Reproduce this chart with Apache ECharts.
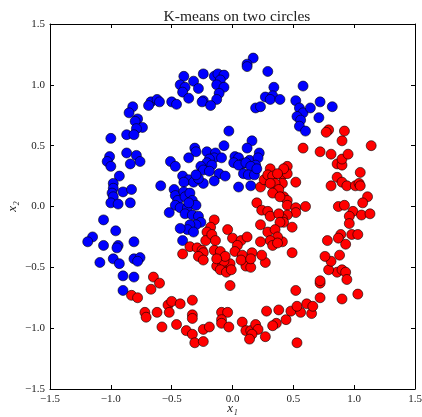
<!DOCTYPE html>
<html><head><meta charset="utf-8">
<script src="https://cdn.jsdelivr.net/npm/echarts@6/dist/echarts.min.js"></script>
<style>html,body{margin:0;padding:0;background:#fff}#c{width:422px;height:417px}</style>
</head><body><div id="c"></div>
<script>
const titleText = 'K-means on two circles';
const xLabel = 'x₁';
const yLabel = 'x₂';
const axisMin = -1.5, axisMax = 1.5, axisStep = 0.5;
const bluePoints = [
[-0.82,0.82],[-0.85,0.77],[-0.67,0.86],[-0.62,0.88],[-0.60,0.86],[-0.69,0.83],[-0.50,0.86],[-0.46,0.84],
[-0.78,0.72],[-0.80,0.70],[-0.74,0.65],[-0.79,0.64],[-0.87,0.59],[-0.81,0.59],[-1.00,0.56],[-0.87,0.44],
[-0.79,0.42],[-0.76,0.37],[-0.84,0.35],[-1.01,0.41],[-1.03,0.37],[-1.00,0.33],[-0.51,0.37],[-0.47,0.33],
[-0.93,0.25],[-0.98,0.19],[-0.98,0.15],[-0.99,0.11],[-0.98,0.08],[-1.00,0.03],[-0.94,0.02],[-0.90,0.12],
[-0.83,0.14],[-0.84,0.03],[-0.59,0.17],[-1.06,-0.11],[-0.96,-0.20],[-1.15,-0.25],[-1.19,-0.29],[-1.06,-0.32],
[-0.94,-0.32],[-0.95,-0.34],[-0.81,-0.29],[-1.09,-0.46],[-0.98,-0.43],[-0.93,-0.47],[-0.81,-0.43],[-0.76,-0.42],
[-0.78,-0.45],[-0.90,-0.57],[-0.81,-0.58],[-0.90,-0.69],[0.17,1.22],[0.12,1.17],[0.12,1.15],[0.29,1.11],
[-0.40,1.07],[-0.24,1.09],[-0.15,1.07],[-0.12,1.09],[-0.07,1.08],[-0.10,1.04],[-0.13,1.00],[-0.07,0.98],
[-0.32,1.03],[-0.43,1.00],[-0.39,0.98],[-0.41,0.94],[-0.28,0.97],[-0.36,0.89],[-0.11,0.93],[-0.13,0.88],
[-0.24,0.87],[-0.25,0.86],[-0.18,0.83],[0.34,0.98],[0.27,0.90],[0.33,0.91],[0.31,0.88],[0.39,0.88],
[0.19,0.81],[0.23,0.82],[-0.03,0.62],[0.16,0.54],[0.12,0.48],[-0.07,0.50],[-0.31,0.48],[-0.30,0.45],
[-0.36,0.40],[-0.21,0.45],[-0.14,0.44],[-0.15,0.40],[-0.09,0.40],[-0.19,0.39],[-0.21,0.36],[-0.26,0.33],
[-0.17,0.34],[0.02,0.41],[0.05,0.40],[0.01,0.36],[0.08,0.35],[0.14,0.38],[0.22,0.44],[0.21,0.40],
[0.19,0.34],[0.58,0.99],[0.52,0.87],[0.55,0.81],[0.58,0.77],[0.53,0.74],[0.56,0.71],[0.55,0.66],
[0.60,0.62],[0.64,0.81],[0.72,0.86],[0.82,0.82],[0.71,0.73],[-0.41,0.25],[-0.36,0.22],[-0.32,0.20],
[-0.24,0.30],[-0.19,0.29],[-0.11,0.27],[-0.06,0.25],[-0.15,0.21],[-0.24,0.19],[-0.28,0.23],[-0.30,0.26],
[-0.40,0.20],[0.05,0.34],[0.11,0.36],[0.15,0.33],[0.09,0.27],[0.13,0.26],[0.18,0.26],[0.20,0.31],
[0.05,0.16],[0.15,0.17],[-0.48,0.14],[-0.47,0.09],[-0.45,0.05],[-0.47,0.01],[-0.43,-0.01],[-0.37,-0.01],
[-0.40,0.12],[-0.39,0.08],[-0.35,0.11],[-0.33,0.05],[-0.30,0.01],[-0.36,0.03],[-0.39,-0.06],[-0.33,-0.07],
[-0.28,-0.08],[-0.26,-0.13],[-0.30,-0.15],[-0.35,-0.15],[-0.37,-0.19],[-0.43,-0.18],[-0.32,-0.21],[-0.41,-0.28],
[-0.52,-0.05]
];
const redPoints = [
[-0.65,-0.58],[-0.60,-0.63],[-0.67,-0.68],[-0.83,-0.73],[-0.78,-0.75],[-0.72,-0.87],[-0.71,-0.91],[-0.62,-0.87],
[-0.58,-0.99],[-0.53,-0.81],[-0.50,-0.78],[-0.52,-0.87],[-0.46,-0.97],[-0.43,-0.80],[-0.41,-0.39],
[-0.13,-0.49],[-0.08,-0.48],[-0.02,-0.47],[-0.07,-0.45],[-0.10,-0.52],[-0.05,-0.54],[-0.01,-0.52],[0.11,-0.49],
[0.15,-0.50],[0.27,-0.46],[-0.02,-0.65],[-0.33,-0.77],[-0.33,-0.89],[-0.33,-0.92],[-0.38,-1.02],[-0.33,-1.05],
[-0.31,-1.12],[-0.24,-1.11],[-0.24,-1.01],[-0.19,-0.99],[-0.09,-0.87],[-0.04,-0.87],[-0.09,-0.93],[-0.09,-0.96],
[-0.03,-0.99],[0.08,-0.95],[0.11,-1.02],[0.15,-1.02],[0.19,-0.97],[0.21,-1.01],[0.16,-1.05],[0.14,-1.09],
[0.27,-1.07],[0.28,-0.86],[0.38,-0.85],[0.36,-0.96],[0.33,-0.98],
[0.44,-0.93],[0.48,-0.86],[0.56,-0.87],[0.65,-0.88],[0.53,-0.82],[0.61,-0.80],[0.66,-0.82],[0.52,-0.69],
[0.72,-0.75],[0.72,-0.63],[0.72,-0.61],[0.90,-0.76],[1.03,-0.72],[0.86,-0.54],[0.90,-0.52],[0.93,-0.54],
[0.94,-0.60],[0.79,-0.52],[0.81,-0.45],[0.53,-1.12],
[0.45,0.33],[0.41,0.26],[0.45,0.27],[0.52,0.20],[0.41,0.19],[0.42,0.08],[0.45,0.05],[0.45,0.01],
[0.52,-0.01],[0.52,-0.05],[0.60,0.00],[0.45,-0.07],[0.41,-0.10],[0.42,-0.13],[0.49,-0.17],[0.41,-0.29],[0.49,-0.38],
[0.86,0.35],[0.90,0.34],[1.05,0.28],[0.86,0.24],[0.90,0.20],[0.94,0.17],[0.81,0.17],[1.01,0.17],
[1.04,0.19],[1.05,0.17],[1.11,0.08],[1.07,0.03],[0.87,0.00],[0.92,0.01],[0.99,-0.04],[0.96,-0.08],
[1.06,-0.07],[1.13,-0.06],[0.96,-0.14],[0.89,-0.23],[0.87,-0.26],[0.98,-0.23],[1.03,-0.23],[0.93,-0.31],
[0.78,-0.28],[0.76,-0.41],[0.88,-0.40],
[0.79,0.63],[0.77,0.61],[0.92,0.62],[0.90,0.54],[0.58,0.48],[0.72,0.45],[0.81,0.43],[0.90,0.39],
[0.95,0.43],[1.14,0.50],[0.42,0.31],[0.31,0.31],
[0.23,0.16],[0.26,0.22],[0.29,0.26],[0.33,0.25],[0.37,0.27],[0.35,0.19],[0.31,0.19],[0.38,0.14],
[0.33,0.11],[0.39,0.08],[0.20,0.03],[0.24,-0.03],[0.29,-0.04],[0.31,-0.08],[0.38,-0.06],[0.39,-0.13],
[0.23,-0.15],[0.29,-0.21],[0.35,-0.19],[0.37,-0.25],[0.31,-0.28],[0.33,-0.32],[0.37,-0.30],[0.23,-0.29],
[0.24,-0.40],[0.16,-0.38],
[-0.15,-0.11],[-0.18,-0.17],[-0.21,-0.21],[-0.22,-0.28],[-0.17,-0.23],[-0.14,-0.28],[-0.04,-0.19],[0.00,-0.26],
[0.07,-0.28],[0.12,-0.25],[0.04,-0.32],[-0.35,-0.33],[-0.29,-0.34],[-0.25,-0.36],[-0.24,-0.38],[-0.28,-0.41],
[-0.24,-0.44],[-0.15,-0.36],[-0.10,-0.37],[-0.06,-0.41],[-0.13,-0.43],[0.02,-0.37],[0.08,-0.40],[0.07,-0.44],
[0.15,-0.43]
];

const serif = 'Liberation Serif, DejaVu Serif, serif';
const fmt = v => (v < 0 ? '\u2212' : '') + Math.abs(v).toFixed(1);
function axis(pos, showLabel, extra) {
  return Object.assign({
    type: 'value', position: pos, min: axisMin, max: axisMax, interval: axisStep,
    axisLine: { show: true, onZero: false, lineStyle: { color: '#000', width: 1 } },
    axisTick: { show: true, inside: true, length: 4, lineStyle: { color: '#000' } },
    axisLabel: { show: showLabel, formatter: fmt, fontFamily: serif, fontSize: 11, color: '#222', margin: 5 },
    splitLine: { show: false }
  }, extra || {});
}
const chart = echarts.init(document.getElementById('c'), null, { renderer: 'canvas' });
chart.setOption({
  animation: false,
  backgroundColor: '#fff',
  title: { text: titleText, left: 232, textAlign: 'center', top: 4,
    textStyle: { fontFamily: serif, fontSize: 15.5, fontWeight: 'normal', color: '#222' } },
  grid: { left: 50, right: 7, top: 24, bottom: 28, containLabel: false, outerBoundsMode: 'none' },
  xAxis: [
    axis('bottom', true, { name: xLabel, nameLocation: 'middle', nameGap: 13, nameMoveOverlap: false,
      nameTextStyle: { fontFamily: serif, fontStyle: 'italic', fontSize: 13, color: '#222', verticalAlign: 'top', lineHeight: 13 } }),
    axis('top', false)
  ],
  yAxis: [
    axis('left', true, { name: yLabel, nameLocation: 'middle', nameGap: 31, nameRotate: 90, nameMoveOverlap: false,
      nameTextStyle: { fontFamily: serif, fontStyle: 'italic', fontSize: 13, color: '#222' } }),
    axis('right', false)
  ],
  series: [
    { type: 'scatter', data: bluePoints, symbolSize: 10,
      itemStyle: { color: '#0000ff', borderColor: '#000', borderWidth: 0.6, opacity: 1 } },
    { type: 'scatter', data: redPoints, symbolSize: 10,
      itemStyle: { color: '#ff0000', borderColor: '#000', borderWidth: 0.6, opacity: 1 } }
  ]
});
</script></body></html>
